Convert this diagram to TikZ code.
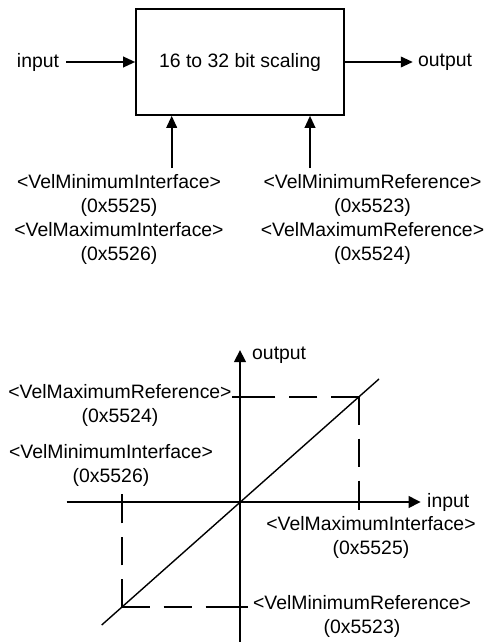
\documentclass[tikz,border=0pt]{standalone}
\usepackage{fontspec}
\setmainfont{Liberation Sans}
\usetikzlibrary{arrows.meta,calc}

\begin{document}
\begin{tikzpicture}[x=1pt,y=-1pt,
    every node/.style={font=\fontsize{19.4}{24}\selectfont, inner sep=0pt, align=center},
    arr/.style={line width=2pt, -{Triangle[length=12pt,width=10.5pt]}},
    axis/.style={line width=2.3pt, -{Triangle[length=12pt,width=11.5pt]}},
    tick/.style={line width=2.3pt},
    guide/.style={line width=2.3pt, dash pattern=on 28pt off 14pt}]
    \useasboundingbox (0,0) rectangle (485,642);

    % scaling block
    \node[draw, line width=1.6pt, minimum width=208pt, minimum height=106pt] (scaler) at (240,62) {16 to 32 bit scaling};
    \node[inner xsep=7pt] (in) at (38,62) {input};
    \node[inner xsep=5pt] (out) at (445,62) {output};
    \draw[arr] (in) -- (scaler);
    \draw[arr] (scaler) -- (out);

    % parameters
    \node (ifc) at (119,219) {<VelMinimumInterface>\\(0x5525)\\<VelMaximumInterface>\\(0x5526)};
    \node (ref) at (372.5,219) {<VelMinimumReference>\\(0x5523)\\<VelMaximumReference>\\(0x5524)};
    \coordinate (ifcfoot) at (171.7,168);
    \coordinate (reffoot) at (310,168);
    \draw[arr] (ifcfoot) -- (ifcfoot |- scaler.south);
    \draw[arr] (reffoot) -- (reffoot |- scaler.south);

    % axes
    \coordinate (O) at (240,502);
    \coordinate (xneg) at (66.7,502);
    \coordinate (xpos) at (420.7,502);
    \coordinate (yneg) at (240,645);
    \coordinate (ypos) at (240,350);
    \draw[axis] (xneg) -- (xpos);
    \draw[axis] (yneg) -- (ypos);
    \node[anchor=west] (xlab) at (427,502) {input};
    \node[anchor=west] (ylab) at (252,355) {output};

    % transfer line
    \coordinate (lend) at (101.7,625);
    \coordinate (hend) at (379,379);
    \coordinate (pmin) at (121.7,607.3);
    \coordinate (pmax) at (359.3,396.7);
    \draw[line width=1.4pt] (lend) -- (hend);

    % limits
    \draw[guide] (pmax) -- (pmax -| O);
    \draw[guide] (pmax) -- (pmax |- O);
    \draw[guide] (pmin) -- (pmin -| O);
    \draw[guide] (pmin) -- (pmin |- O);
    \draw[tick] ($(O |- pmax)+(-8,0)$) -- ($(O |- pmax)+(8,0)$);
    \draw[tick] ($(O |- pmin)+(-8,0)$) -- ($(O |- pmin)+(8,0)$);
    \draw[tick] ($(pmax |- O)+(0,-8)$) -- ($(pmax |- O)+(0,8)$);
    \draw[tick] ($(pmin |- O)+(0,-8)$) -- ($(pmin |- O)+(0,8)$);

    \node (maxref) at (120,405) {<VelMaximumReference>\\(0x5524)};
    \node (minifc) at (111,465) {<VelMinimumInterface>\\(0x5526)};
    \node (maxifc) at (371,537) {<VelMaximumInterface>\\(0x5525)};
    \node (minref) at (362,616) {<VelMinimumReference>\\(0x5523)};
\end{tikzpicture}
\end{document}
